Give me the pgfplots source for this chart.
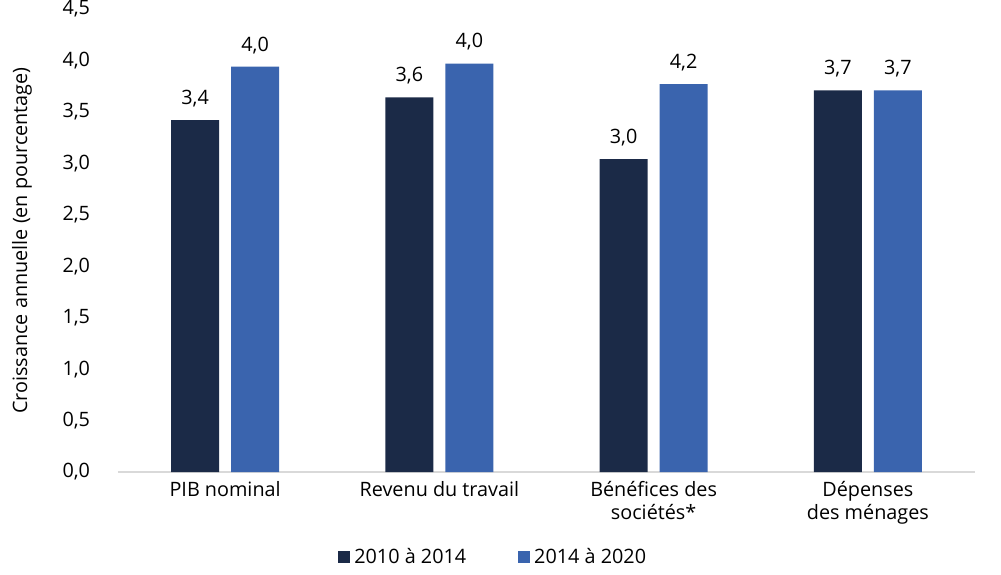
\documentclass[border=0pt]{standalone}
\usepackage{pgfplots}
\pgfplotsset{compat=1.18}
\usepackage{fontspec}
\setmainfont{Open Sans}
\definecolor{darkb}{HTML}{1B2A47}
\definecolor{midb}{HTML}{3A64AE}
\definecolor{axgray}{HTML}{D9D9D9}
\begin{document}
\fontsize{9.9pt}{11.5pt}\selectfont
\begin{tikzpicture}
\begin{axis}[
  scale only axis,
  width=428.5pt, height=231.5pt,
  ymin=0, ymax=4.5,
  xmin=-0.5, xmax=3.5,
  ytick={0,0.5,...,4.5},
  xtick={0,1,2,3},
  xticklabels={PIB nominal, Revenu du travail, {Bénéfices des\\sociétés*}, {Dépenses\\des ménages}},
  xticklabel style={align=center, font=\fontsize{9.9pt}{11.5pt}\selectfont, yshift=-1pt},
  yticklabel style={font=\fontsize{9.9pt}{11.5pt}\selectfont, xshift=-10.5pt},
  /pgf/number format/.cd, use comma, fixed, fixed zerofill, precision=1, assume math mode=true,
  /pgfplots/.cd,
  axis x line*=bottom,
  axis y line*=left,
  y axis line style={draw=none},
  x axis line style={axgray, line width=1pt, -},
  major tick length=0pt,
  ylabel={Croissance annuelle (en pourcentage)},
  every axis y label/.style={at={(axis description cs:-0.112,0.5)}, rotate=90, anchor=center,
    font=\fontsize{9.9pt}{11.5pt}\selectfont},
  ybar, bar width=24pt,
  nodes near coords,
  point meta=explicit symbolic,
  every node near coord/.append style={font=\fontsize{9.9pt}{11.5pt}\selectfont, black, yshift=3pt},
  legend style={at={(0.439,-0.1836)}, anchor=center, draw=none, legend columns=2,
    font=\fontsize{9.9pt}{11.5pt}\selectfont,
    /tikz/every even column/.append style={column sep=24pt}},
  legend image code/.code={\draw[#1, draw=none] (0pt,-3pt) rectangle (6pt,3pt);},
]
\addplot[fill=darkb, draw=none, bar shift=-15pt] coordinates {(0,3.42)[3,4] (1,3.64)[3,6] (2,3.04)[3,0] (3,3.71)[3,7]};
\addplot[fill=midb, draw=none, bar shift=15pt] coordinates {(0,3.94)[4,0] (1,3.97)[4,0] (2,3.77)[4,2] (3,3.71)[3,7]};
\legend{2010 à 2014, 2014 à 2020}
\end{axis}
\pgfresetboundingbox
\path (current axis.south west) ++(-59pt,-51pt) rectangle ++(500.5pt,287pt);
\end{tikzpicture}
\end{document}
